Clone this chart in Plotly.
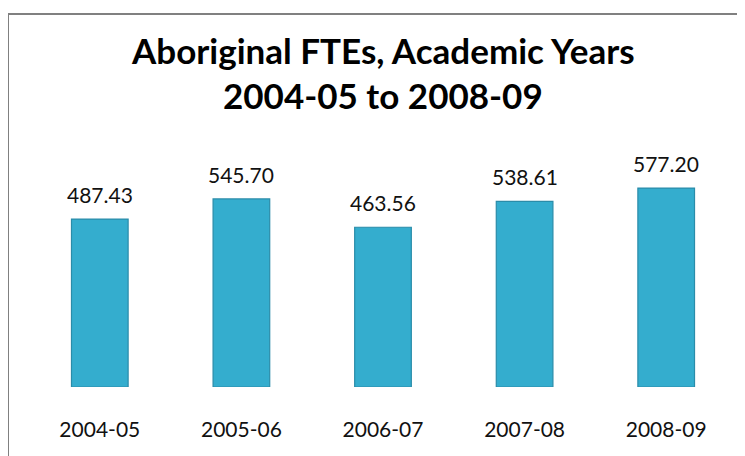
import plotly.graph_objects as go

categories = ["2004-05", "2005-06", "2006-07", "2007-08", "2008-09"]
values = [487.43, 545.70, 463.56, 538.61, 577.20]
value_labels = ["487.43", "545.70", "463.56", "538.61", "577.20"]
title_lines = ["Aboriginal FTEs, Academic Years", "2004-05 to 2008-09"]

W, H = 745, 456
L, R, T, B = 21, 16, 142, 77
pw = W - L - R
ph = H - T - B

fig = go.Figure()
fig.add_trace(go.Bar(
    x=categories, y=values,
    marker=dict(color="#34ADCE", line=dict(color="#2A8CA9", width=1.2)),
    width=0.4,
    hoverinfo="skip",
))

font_family = "Lato, 'Liberation Sans', sans-serif"
annotations = []
for c, v, t in zip(categories, values, value_labels):
    annotations.append(dict(x=c, y=v, xref="x", yref="y", text=t, showarrow=False,
                            yanchor="bottom", yshift=10,
                            font=dict(family=font_family, size=21, color="#111111")))

title_y = [42, 87]
for line, yp in zip(title_lines, title_y):
    annotations.append(dict(x=0.5, xref="paper", y=(H - B - yp) / ph, yref="paper",
                            text="<b>" + line + "</b>", showarrow=False,
                            xanchor="center", yanchor="middle",
                            font=dict(family=font_family, size=35, color="#000000")))

bx = (0 - L) / pw
by = (H - B - 6) / ph
shapes = [dict(type="path", xref="paper", yref="paper",
               path=f"M {bx},{-0.5} L {bx},{by} L {1.2},{by}",
               line=dict(color="#808080", width=2))]

fig.update_layout(
    width=W, height=H,
    margin=dict(l=L, r=R, t=T, b=B, autoexpand=False),
    paper_bgcolor="white", plot_bgcolor="white",
    showlegend=False,
    annotations=annotations,
    shapes=shapes,
    xaxis=dict(type="category", showline=False, showgrid=False, ticks="", ticklabelstandoff=28,
               tickfont=dict(family=font_family, size=21, color="#111111")),
    yaxis=dict(range=[0, ph / 0.3446], visible=False, showgrid=False),
)

fig.write_html("out.html")
